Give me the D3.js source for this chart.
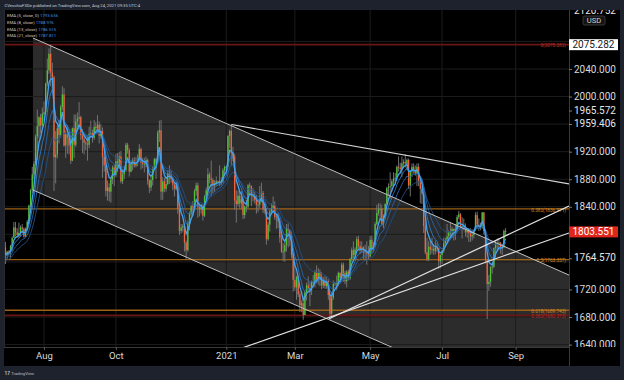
<!DOCTYPE html>
<html>
<head>
<meta charset="utf-8">
<script src="https://cdn.jsdelivr.net/npm/d3@7"></script>
<style>
  body { margin: 0; background: #1e222d; }
  svg { display: block; font-family: Roboto, "Liberation Sans", sans-serif; }
</style>
</head>
<body>
<svg id="chart" width="624" height="380"></svg>
<script>
// XAU/USD daily bars, one entry per weekday starting Mon 2020-06-22 (5 per row = one week)
const opens = [
  1743,1754,1768,1761,1763, 1771,1772,1781,1770,1775, 1774,1783,1795,1810,1803, 1799,1802,1810,1808,1797,
  1808,1818,1842,1864,1887, 1902,1942,1957,1970,1958, 1975,1977,2019,2038,2062, 2035,2028,1912,1916,1954,
  1944,1985,2003,1929,1946, 1940,1929,1907,1954,1930, 1964,1968,1970,1944,1938, 1933,1932,1930,1946,1947,
  1940,1956,1954,1959,1943, 1950,1912,1900,1863,1868, 1862,1880,1897,1886,1906, 1900,1913,1877,1887,1893,
  1930,1922,1891,1902,1908, 1900,1905,1907,1924,1904, 1902,1902,1908,1878,1868, 1879,1894,1909,1904,1948,
  1951,1862,1877,1866,1873, 1888,1886,1880,1872,1866, 1871,1837,1805,1810,1812, 1788,1777,1815,1830,1841,
  1839,1863,1871,1839,1836, 1840,1827,1855,1864,1887, 1881,1879,1871,1874,1877, 1876,1877,1877,1893,1898,
  1898,1943,1950,1918,1913, 1849,1844,1856,1845,1851, 1828,1840,1840,1871,1870, 1856,1856,1850,1843,1843,
  1848,1860,1836,1835,1793, 1814,1833,1838,1842,1825, 1824,1819,1795,1775,1775, 1784,1808,1806,1797,1770,
  1734,1723,1738,1713,1697, 1700,1683,1716,1726,1722, 1719,1731,1731,1745,1735, 1745,1739,1726,1733,1725,
  1732,1712,1685,1708,1728, 1729,1729,1744,1737,1756, 1744,1732,1746,1736,1764, 1777,1770,1778,1793,1783,
  1777,1781,1777,1774,1772, 1768,1792,1779,1784,1815, 1831,1836,1837,1815,1826, 1844,1867,1869,1870,1877,
  1881,1882,1898,1897,1895, 1903,1905,1903,1908,1871, 1891,1898,1893,1888,1898, 1877,1866,1859,1812,1774,
  1764,1782,1778,1779,1776, 1781,1780,1761,1770,1776, 1787,1791,1797,1803,1803, 1808,1805,1808,1825,1829,
  1812,1812,1811,1803,1806, 1802,1797,1799,1806,1828, 1814,1812,1810,1832,1805, 1763,1728,1731,1752,1753,
  1780,1787,1786,1788,1781, 1781,1805
]
const highs = [
  1755,1768,1779,1768,1772, 1775,1785,1789,1776,1777, 1785,1797,1818,1818,1809, 1817,1813,1815,1810,1810,
  1821,1843,1866,1898,1906, 1945,1981,1971,1975,1984, 1993,2020,2055,2070,2075, 2049,2030,1950,1958,1966,
  1988,2015,2012,1951,1959, 1948,1944,1955,1974,1974, 1977,1992,1972,1953,1946, 1936,1944,1956,1965,1952,
  1966,1963,1973,1964,1960, 1955,1918,1904,1878,1874, 1883,1900,1901,1917,1918, 1920,1921,1895,1898,1933,
  1933,1925,1908,1911,1912, 1912,1916,1931,1926,1911, 1911,1913,1910,1880,1884, 1899,1911,1911,1951,1965,
  1966,1883,1882,1881,1893, 1900,1894,1883,1874,1876, 1875,1839,1815,1815,1815, 1791,1820,1833,1843,1848,
  1866,1875,1875,1844,1844, 1844,1857,1868,1896,1890, 1907,1882,1879,1884,1878, 1900,1883,1896,1900,1899,
  1944,1952,1959,1927,1917, 1864,1863,1862,1863,1855, 1842,1850,1873,1875,1871, 1867,1862,1857,1848,1870,
  1875,1863,1844,1838,1818, 1836,1845,1855,1848,1828, 1831,1824,1799,1787,1790, 1815,1816,1807,1804,1773,
  1760,1740,1740,1717,1704, 1710,1718,1730,1739,1730, 1733,1741,1748,1755,1751, 1749,1745,1738,1740,1738,
  1735,1714,1716,1733,1731, 1740,1746,1745,1759,1759, 1747,1748,1749,1766,1781, 1790,1781,1797,1798,1790,
  1790,1783,1785,1790,1783, 1798,1798,1789,1818,1843, 1845,1845,1843,1829,1845, 1869,1874,1890,1880,1890,
  1889,1900,1913,1904,1913, 1909,1916,1910,1910,1891, 1903,1903,1900,1903,1903, 1879,1870,1861,1823,1795,
  1790,1791,1795,1785,1791, 1787,1781,1771,1778,1795, 1795,1815,1806,1818,1811, 1808,1815,1828,1834,1831,
  1825,1823,1816,1808,1809, 1809,1807,1807,1832,1833, 1823,1817,1832,1832,1805, 1763,1741,1754,1759,1781,
  1791,1794,1794,1789,1786, 1807,1809
]
const lows = [
  1737,1747,1757,1754,1757, 1763,1767,1757,1763,1769, 1765,1776,1795,1797,1795, 1795,1797,1801,1795,1796,
  1806,1816,1839,1860,1880, 1900,1908,1939,1947,1954, 1965,1973,2015,2033,2015, 2008,1863,1874,1910,1932,
  1940,1980,1927,1911,1917, 1916,1902,1906,1911,1927, 1955,1956,1937,1918,1916, 1922,1907,1925,1943,1933,
  1937,1946,1946,1932,1939, 1882,1891,1855,1849,1848, 1846,1873,1870,1883,1890, 1895,1874,1873,1880,1891,
  1917,1884,1890,1893,1897, 1897,1899,1906,1894,1896, 1890,1897,1872,1860,1863, 1871,1893,1880,1904,1934,
  1850,1850,1861,1862,1871, 1873,1875,1864,1855,1864, 1830,1799,1801,1804,1775, 1764,1775,1806,1826,1828,
  1837,1856,1824,1826,1830, 1820,1825,1850,1860,1874, 1855,1860,1862,1871,1874, 1870,1871,1874,1885,1896,
  1898,1925,1900,1906,1836, 1817,1840,1837,1836,1822, 1823,1832,1838,1859,1841, 1848,1845,1830,1832,1838,
  1846,1831,1830,1785,1791, 1804,1829,1836,1821,1808, 1809,1788,1773,1761,1760, 1775,1781,1783,1765,1717,
  1718,1705,1709,1687,1687, 1676,1683,1704,1718,1696, 1712,1723,1723,1729,1727, 1725,1720,1722,1721,1721,
  1705,1676,1678,1705,1725, 1719,1725,1730,1734,1731, 1728,1723,1733,1734,1760, 1765,1764,1775,1777,1772,
  1773,1764,1762,1756,1763, 1766,1771,1774,1782,1813, 1827,1822,1813,1809,1823, 1843,1857,1852,1862,1869,
  1872,1878,1891,1888,1883, 1898,1897,1893,1866,1855, 1883,1888,1885,1870,1870, 1845,1844,1802,1771,1761,
  1761,1770,1772,1770,1771, 1774,1750,1751,1757,1773, 1784,1787,1793,1795,1795, 1791,1792,1806,1822,1808,
  1794,1806,1797,1795,1789, 1789,1791,1794,1805,1810, 1805,1806,1808,1800,1758, 1677,1718,1724,1743,1751,
  1766,1777,1779,1772,1770, 1780,1799
]
const closes = [
  1754,1768,1761,1763,1771, 1772,1781,1770,1775,1774, 1783,1795,1810,1803,1799, 1802,1810,1808,1797,1808,
  1818,1842,1864,1887,1902, 1942,1957,1970,1958,1975, 1977,2019,2038,2062,2035, 2028,1912,1916,1954,1944,
  1985,2003,1929,1946,1940, 1929,1907,1954,1930,1964, 1968,1970,1944,1938,1933, 1932,1930,1946,1947,1940,
  1956,1954,1959,1943,1950, 1912,1900,1863,1868,1862, 1880,1897,1886,1906,1900, 1913,1877,1887,1893,1930,
  1922,1891,1902,1908,1900, 1905,1907,1924,1904,1902, 1902,1908,1878,1868,1879, 1894,1909,1904,1948,1951,
  1862,1877,1866,1873,1888, 1886,1880,1872,1866,1871, 1837,1805,1810,1812,1788, 1777,1815,1830,1841,1839,
  1863,1871,1839,1836,1840, 1827,1855,1864,1887,1881, 1879,1871,1874,1877,1876, 1877,1877,1893,1898,1898,
  1943,1950,1918,1913,1849, 1844,1856,1845,1851,1828, 1840,1840,1871,1870,1856, 1856,1850,1843,1843,1848,
  1860,1836,1835,1793,1814, 1833,1838,1842,1825,1824, 1819,1795,1775,1775,1784, 1808,1806,1797,1770,1734,
  1723,1738,1713,1697,1700, 1683,1716,1726,1722,1719, 1731,1731,1745,1735,1745, 1739,1726,1733,1725,1732,
  1712,1685,1708,1728,1729, 1729,1744,1737,1756,1744, 1732,1746,1736,1764,1777, 1770,1778,1793,1783,1777,
  1781,1777,1774,1772,1768, 1792,1779,1784,1815,1831, 1836,1837,1815,1826,1844, 1867,1869,1870,1877,1881,
  1882,1898,1897,1895,1903, 1905,1903,1908,1871,1891, 1898,1893,1888,1898,1877, 1866,1859,1812,1774,1764,
  1782,1778,1779,1776,1781, 1780,1761,1770,1776,1787, 1791,1797,1803,1803,1808, 1805,1808,1825,1829,1812,
  1812,1811,1803,1806,1802, 1797,1799,1806,1828,1814, 1812,1810,1832,1805,1763, 1728,1731,1752,1753,1780,
  1787,1786,1788,1781,1781, 1805,1803.551
]

const emaLengths = [21, 13, 8, 5]
const emaLegend = ["EMA (5, close, 0)", "EMA (8, close)", "EMA (13, close)", "EMA (21, close)"]
const emaLegendValues = ["1793.656", "1788.976", "1786.515", "1787.811"]

const monthStarts = ["2020-08-01", "2020-10-01", "2021-01-01", "2021-03-01", "2021-05-01", "2021-07-01", "2021-09-01"]
const monthLabels = ["Aug", "Oct", "2021", "Mar", "May", "Jul", "Sep"]

const gridPrices = [1640, 1680, 1720, 1760, 1800, 1840, 1880, 1920, 1960, 2000, 2040, 2080]
const axisPrices = [1640, 1680, 1720, 1840, 1880, 1920, 2000, 2040]
const plainAxisLabels = [1965.572, 1959.406, 1764.570]
const topAxisLabel = 2120.752
const lastPrice = 1803.551

const fibOrange = [["0.382", 1836.971], ["0.5", 1763.357], ["0.618", 1689.743]]
const fibRed = [["0", 2075.282], ["0.382", 1682.373]]

// drawings, as [bar index, price]
const channelTop = [[23.4, 2085.0], [343.9, 1740.9]]
const channelBottom = [[23.4, 1864.4], [343.9, 1523.6]]
const resistanceLine = [[142, 1959.4], [343.9, 1873.1]]
const supportLow = [[140, 1627.8], [343.9, 1802.0]]
const supportHigh = [[200.5, 1677.5], [343.9, 1841.1]]

const startDay = new Date(2020, 5, 22)
const plot = { left: 4, right: 569, top: 10, bottom: 347 }
const frame = { right: 620, bottom: 366 }

const svg = d3.select("#chart")

const x = d3.scaleLinear().domain([6.1, 343.9]).range([plot.left, plot.right])
const y = d3.scaleLinear().domain([1636.5, 2125.6]).range([plot.bottom, plot.top])

function barIndex(dateString) {
  const n = d3.timeDay.count(startDay, d3.timeParse("%Y-%m-%d")(dateString))
  return Math.floor(n / 7) * 5 + Math.min(n % 7, 5)
}

function ema(values, n) {
  const k = 2 / (n + 1)
  let prev = values[0]
  return values.map((v, i) => (prev = i === 0 ? v : v * k + prev * (1 - k)))
}

// frame
svg.append("rect").attr("width", 624).attr("height", 380).attr("fill", "#1e222d")
svg.append("rect")
  .attr("x", plot.left).attr("y", plot.top)
  .attr("width", frame.right - plot.left).attr("height", frame.bottom - plot.top)
  .attr("fill", "#000")

svg.append("clipPath").attr("id", "plotClip")
  .append("rect")
  .attr("x", plot.left).attr("y", plot.top)
  .attr("width", plot.right - plot.left).attr("height", plot.bottom - plot.top)

const g = svg.append("g").attr("clip-path", "url(#plotClip)")

// channel fill
const channelPoly = [channelTop[0], channelTop[1], channelBottom[1], channelBottom[0]]
g.append("polygon")
  .attr("points", channelPoly.map(p => [x(p[0]), y(p[1])].join(",")).join(" "))
  .attr("fill", "#2c2c2c")

// grid
const monthIdx = monthStarts.map(barIndex)
g.selectAll(".vgrid").data(monthIdx).join("line")
  .attr("x1", d => x(d)).attr("x2", d => x(d))
  .attr("y1", plot.top).attr("y2", plot.bottom)
  .attr("stroke", "#1c1c1c").attr("stroke-width", 1)
g.selectAll(".hgrid").data(gridPrices).join("line")
  .attr("x1", plot.left).attr("x2", plot.right)
  .attr("y1", d => y(d)).attr("y2", d => y(d))
  .attr("stroke", "#1c1c1c").attr("stroke-width", 1)

// fib levels
function fibLines(levels, color, labelColor, width) {
  levels.forEach(([lvl, price]) => {
    g.append("line")
      .attr("x1", plot.left).attr("x2", plot.right)
      .attr("y1", y(price)).attr("y2", y(price))
      .attr("stroke", color).attr("stroke-width", width)
    g.append("text")
      .attr("x", plot.right - 3).attr("y", y(price) + 1.5)
      .attr("text-anchor", "end").attr("dominant-baseline", "middle")
      .attr("font-size", "4.7px").attr("fill", labelColor)
      .text(`${lvl}(${price.toFixed(3)})`)
  })
}
fibLines(fibRed, "#6a1414", "#b0302a", 1.8)
fibLines(fibOrange, "#9c6016", "#d08a2a", 1.4)

// candles
const bars = closes.map((c, i) => ({ i, o: opens[i], h: highs[i], l: lows[i], c }))
const bodyW = 1.3
g.selectAll(".wick").data(bars).join("line")
  .attr("x1", d => x(d.i)).attr("x2", d => x(d.i))
  .attr("y1", d => y(d.h)).attr("y2", d => y(d.l))
  .attr("stroke", "#7a7a7a").attr("stroke-width", 0.9)
g.selectAll(".body").data(bars).join("rect")
  .attr("x", d => x(d.i) - bodyW / 2)
  .attr("y", d => y(Math.max(d.o, d.c)))
  .attr("width", bodyW)
  .attr("height", d => Math.max(0.8, Math.abs(y(d.o) - y(d.c))))
  .attr("fill", d => d.c >= d.o ? "#4fc535" : "#f4623a")

// EMAs
const emaColors = { 21: "#1f4f86", 13: "#2863a6", 8: "#2f7ac6", 5: "#45a3f0" }
const emaLine = d3.line().x((d, i) => x(i)).y(d => y(d))
emaLengths.forEach(n => {
  g.append("path")
    .attr("d", emaLine(ema(closes, n)))
    .attr("fill", "none")
    .attr("stroke", emaColors[n])
    .attr("stroke-width", n === 5 ? 1.3 : 0.9)
})

// trend lines
function trend(pts, color, width) {
  g.append("line")
    .attr("x1", x(pts[0][0])).attr("y1", y(pts[0][1]))
    .attr("x2", x(pts[1][0])).attr("y2", y(pts[1][1]))
    .attr("stroke", color).attr("stroke-width", width)
}
trend(channelTop, "#bfbfbf", 1)
trend(channelBottom, "#bfbfbf", 1)
trend(resistanceLine, "#d6d6d6", 1.2)
trend(supportLow, "#e2e2e2", 1.2)
trend(supportHigh, "#e2e2e2", 1.2)

// separators
svg.append("line")
  .attr("x1", plot.right + 0.5).attr("x2", plot.right + 0.5)
  .attr("y1", plot.top).attr("y2", frame.bottom)
  .attr("stroke", "#3a3a3a")
svg.append("line")
  .attr("x1", plot.left).attr("x2", plot.right)
  .attr("y1", plot.bottom + 0.5).attr("y2", plot.bottom + 0.5)
  .attr("stroke", "#3a3a3a")
svg.append("line")
  .attr("x1", plot.left + 0.5).attr("x2", plot.left + 0.5)
  .attr("y1", plot.top).attr("y2", plot.bottom)
  .attr("stroke", "#2a2a2a")

// price axis
svg.append("clipPath").attr("id", "axisClip")
  .append("rect")
  .attr("x", plot.right).attr("y", plot.top)
  .attr("width", frame.right - plot.right).attr("height", plot.bottom - plot.top)

const yAxisG = svg.append("g")
  .attr("clip-path", "url(#axisClip)")
  .append("g")
  .attr("transform", `translate(${plot.right},0)`)
  .call(d3.axisRight(y).tickValues(axisPrices).tickFormat(d3.format(".3f")).tickSize(3).tickPadding(2))
yAxisG.select(".domain").remove()
yAxisG.selectAll("line").attr("stroke", "#777")
yAxisG.selectAll("text").attr("fill", "#dadada").attr("font-size", "10px").attr("font-family", "Roboto")

// plain labels, pushed apart the way the price scale does it
const labelY = plainAxisLabels.map(v => ({ v, y: y(v) })).sort((a, b) => b.y - a.y)
for (let k = 1; k < labelY.length; k++) {
  if (labelY[k].y > labelY[k - 1].y - 13.5) labelY[k].y = labelY[k - 1].y - 13.5
}
const plainG = svg.append("g").attr("clip-path", "url(#axisClip)")
labelY.forEach(d => {
  plainG.append("line")
    .attr("x1", plot.right).attr("x2", plot.right + 3)
    .attr("y1", d.y).attr("y2", d.y).attr("stroke", "#777")
  plainG.append("text")
    .attr("x", plot.right + 5).attr("y", d.y)
    .attr("dominant-baseline", "middle")
    .attr("font-size", "10px").attr("fill", "#e6e6e6")
    .text(d3.format(".3f")(d.v))
})
// top label, half cut off by the pane edge
plainG.append("text")
  .attr("x", plot.right + 5).attr("y", y(topAxisLabel) - 1.5)
  .attr("dominant-baseline", "middle")
  .attr("font-size", "10px").attr("fill", "#e6e6e6")
  .text(d3.format(".3f")(topAxisLabel))

// boxed labels
function boxLabel(value, fill, textColor) {
  const cy = y(value)
  svg.append("rect")
    .attr("x", plot.right).attr("y", cy - 5.5)
    .attr("width", 49).attr("height", 11)
    .attr("fill", fill)
  svg.append("text")
    .attr("x", plot.right + 24.5).attr("y", cy + 0.5)
    .attr("text-anchor", "middle").attr("dominant-baseline", "middle")
    .attr("font-size", "10px").attr("fill", textColor)
    .text(d3.format(".3f")(value))
}
boxLabel(fibRed[0][1], "#ffffff", "#131722")
boxLabel(lastPrice, "#e0261c", "#ffffff")

// USD badge
svg.append("rect")
  .attr("x", 583).attr("y", 16).attr("width", 22).attr("height", 9).attr("rx", 1.5)
  .attr("fill", "#131313").attr("stroke", "#4a4a4a").attr("stroke-width", 0.7)
svg.append("text")
  .attr("x", 594).attr("y", 20.8)
  .attr("text-anchor", "middle").attr("dominant-baseline", "middle")
  .attr("font-size", "7.6px").attr("fill", "#d0d0d0")
  .text("USD")

// time axis
const xAxisG = svg.append("g")
  .attr("transform", `translate(0,${plot.bottom})`)
  .call(d3.axisBottom(x).tickValues(monthIdx).tickFormat((d, i) => monthLabels[i]).tickSize(3).tickPadding(2))
xAxisG.select(".domain").remove()
xAxisG.selectAll("line").attr("stroke", "#555")
xAxisG.selectAll("text").attr("fill", "#dadada").attr("font-size", "9.5px").attr("font-family", "Roboto")

// header band
svg.append("rect").attr("width", 624).attr("height", plot.top).attr("fill", "#1e222d")
svg.append("text")
  .attr("x", 4.5).attr("y", 5.5)
  .attr("dominant-baseline", "middle")
  .attr("font-size", "4.2px").attr("fill", "#c9ccd4")
  .text("CVecchioFXDe published on TradingView.com, Aug 24, 2021 09:35 UTC-4")

// legend
emaLegend.forEach((label, i) => {
  const t = svg.append("text")
    .attr("x", 7).attr("y", 16.3 + i * 6.7)
    .attr("dominant-baseline", "middle")
    .attr("font-size", "4.3px")
  t.append("tspan").attr("fill", "#c8c8c8").text(label + "  ")
  t.append("tspan").attr("fill", "#3d93e6").text(emaLegendValues[i])
})

// footer logo
const logo = svg.append("text")
  .attr("x", 4.5).attr("y", 373.5)
  .attr("dominant-baseline", "middle")
  .attr("font-size", "4.2px").attr("fill", "#b8bcc6")
logo.append("tspan").attr("font-weight", "bold").attr("font-size", "4.8px").text("17 ")
logo.append("tspan").text("TradingView")
</script>
</body>
</html>
